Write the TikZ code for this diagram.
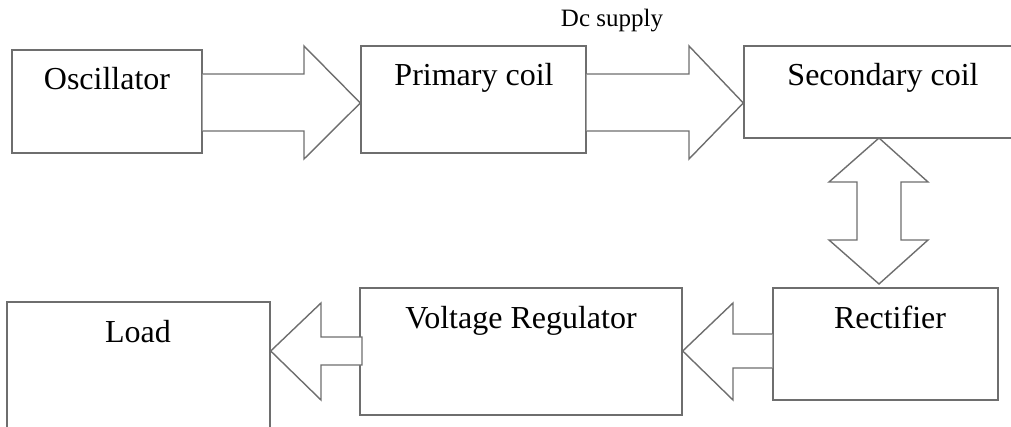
\documentclass[tikz,border=0pt]{standalone}
\usepackage{fontspec}
\setmainfont{Liberation Serif}
\begin{document}
\begin{tikzpicture}[x=1pt,y=-1pt,
  box/.style={draw=linegray,line width=1.4pt,rectangle,inner sep=0pt},
  lbl/.style={anchor=base,inner sep=0pt,font=\fontsize{32}{36}\selectfont},
  small/.style={anchor=base,inner sep=0pt,font=\fontsize{25}{28}\selectfont},
  blk/.style={draw=linegray,line width=1.4pt,line join=miter,fill=white}]
\definecolor{linegray}{RGB}{110,110,110}
\useasboundingbox (0,0) rectangle (1011,427);
\clip (0,0) rectangle (1011,427);
% boxes
\node[box,minimum width=190pt,minimum height=103pt] (osc) at (107,101.5) {};
\node[box,minimum width=225pt,minimum height=107pt] (prim) at (473.5,99.5) {};
\node[box,minimum width=286pt,minimum height=92pt] (sec) at (887,92) {};
\node[box,minimum width=225pt,minimum height=112pt] (rect) at (885.5,344) {};
\node[box,minimum width=322pt,minimum height=127pt] (vr) at (521,351.5) {};
\node[box,minimum width=263pt,minimum height=148pt] (load) at (138.5,376) {};
% labels
\node[lbl] (osct) at (107,90) {Oscillator};
\node[lbl] (primt) at (474,86) {Primary coil};
\node[lbl] (sect) at (883,86) {Secondary coil};
\node[lbl] (rectt) at (890,328) {Rectifier};
\node[lbl] (vrt) at (521,328) {Voltage Regulator};
\node[lbl] (loadt) at (138,342) {Load};
\node[small] (dc) at (612,27) {Dc supply};
% block arrows
\draw[blk] (osc.east |- 0,74) -- (304,74) -- (304,46) -- (prim.west |- 0,103) -- (304,159) -- (304,131) -- (osc.east |- 0,131);
\draw[blk] (prim.east |- 0,74) -- (689,74) -- (689,46) -- (sec.west |- 0,103) -- (689,159) -- (689,131) -- (prim.east |- 0,131);
\draw[blk] (879,138) -- (928,182) -- (901,182) -- (901,240) -- (928,240) -- (879,284) -- (829,240) -- (857,240) -- (857,182) -- (829,182) -- cycle;
\draw[blk] (rect.west |- 0,334) -- (733,334) -- (733,303) -- (vr.east |- 0,351) -- (733,400) -- (733,368) -- (rect.west |- 0,368);
\draw[blk] (362,337) -- (321,337) -- (321,303) -- (load.east |- 0,351) -- (321,400) -- (321,365) -- (362,365) -- cycle;
\end{tikzpicture}
\end{document}
